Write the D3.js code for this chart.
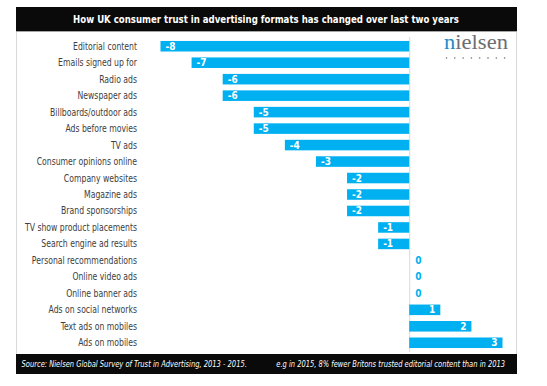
<!DOCTYPE html>
<html>
<head>
<meta charset="utf-8">
<script src="https://cdn.jsdelivr.net/npm/d3@7/dist/d3.min.js"></script>
<style>
  body { margin: 0; background: #fff; }
  svg { display: block; }
</style>
</head>
<body>
<div id="chart"></div>
<script>
// chart data
const formats = [
  "Editorial content", "Emails signed up for", "Radio ads", "Newspaper ads",
  "Billboards/outdoor ads", "Ads before movies", "TV ads", "Consumer opinions online",
  "Company websites", "Magazine ads", "Brand sponsorships", "TV show product placements",
  "Search engine ad results", "Personal recommendations", "Online video ads",
  "Online banner ads", "Ads on social networks", "Text ads on mobiles", "Ads on mobiles"
];
const changes = [-8, -7, -6, -6, -5, -5, -4, -3, -2, -2, -2, -1, -1, 0, 0, 0, 1, 2, 3];
const xDomain = [-8, 3];

const titleText = "How UK consumer trust in advertising formats has changed over last two years";
const sourceText = "Source: Nielsen Global Survey of Trust in Advertising, 2013 - 2015.";
const noteText = "e.g in 2015, 8% fewer Britons trusted editorial content than in 2013";

const W = 547, H = 386;
const blue = "#00b0f0";
const font = "'DejaVu Sans Condensed', 'Liberation Sans', sans-serif";

const svg = d3.select("#chart").append("svg")
  .attr("width", W)
  .attr("height", H);

// narrow text: draw at origin inside a group that is scaled horizontally
// so that the text takes `width` px, anchored at (x, y)
function narrowText(parent, str, x, y, width, anchor, styles) {
  const g = parent.append("g");
  const t = g.append("text").attr("text-anchor", anchor).text(str);
  Object.entries(styles).forEach(([k, v]) => t.style(k, v));
  const k = width / t.node().getComputedTextLength();
  g.attr("transform", `translate(${x},${y}) scale(${k},1)`);
  return t;
}

// outer frame
svg.append("rect")
  .attr("x", 16.5).attr("y", 7.5)
  .attr("width", 500).attr("height", 366)
  .attr("fill", "#fff")
  .attr("stroke", "#d9d9d9");

// title bar
svg.append("rect")
  .attr("x", 16).attr("y", 7)
  .attr("width", 501).attr("height", 24)
  .attr("fill", "#0a0a0a");
svg.append("line")
  .attr("x1", 16).attr("x2", 517)
  .attr("y1", 31.5).attr("y2", 31.5)
  .attr("stroke", "#a6a6a6");
narrowText(svg, titleText, 266, 23, 386, "middle", {
  "font-family": font, "font-weight": "bold", "font-size": "11px", "fill": "#fff"
});

// footer bar
svg.append("rect")
  .attr("x", 16).attr("y", 354)
  .attr("width", 501).attr("height", 20)
  .attr("fill", "#0a0a0a");
const footStyle = { "font-family": font, "font-style": "italic", "font-size": "9px", "fill": "#fff" };
narrowText(svg, sourceText, 21.5, 367, 226, "start", footStyle);
narrowText(svg, noteText, 505, 367, 229, "end", footStyle);

// scales
const x = d3.scaleLinear().domain(xDomain).range([160.5, 502.5]);
const y = d3.scaleBand().domain(formats).range([38, 351]).paddingInner(0.36).paddingOuter(0.18);

// zero line
svg.append("line")
  .attr("x1", x(0) + 0.5).attr("x2", x(0) + 0.5)
  .attr("y1", 37).attr("y2", 352)
  .attr("stroke", "#d9d9d9");

// category labels
const labelG = svg.append("g");
formats.forEach(f => {
  const g = labelG.append("g");
  g.append("text")
    .attr("text-anchor", "end")
    .attr("fill", "#404040")
    .style("font-family", font)
    .style("font-size", "10px")
    .text(f);
  g.attr("transform", `translate(137,${y(f) + y.bandwidth() / 2 + 3.5}) scale(0.86,1)`);
});

const rows = formats.map((f, i) => ({ name: f, value: changes[i] }));

// bars
svg.append("g")
  .selectAll("rect")
  .data(rows.filter(d => d.value !== 0))
  .join("rect")
  .attr("x", d => x(Math.min(0, d.value)))
  .attr("y", d => y(d.name))
  .attr("width", d => Math.abs(x(d.value) - x(0)))
  .attr("height", y.bandwidth())
  .attr("fill", blue);

// value labels
svg.append("g")
  .selectAll("text")
  .data(rows)
  .join("text")
  .attr("x", d => d.value < 0 ? x(d.value) + 5 : d.value > 0 ? x(d.value) - 5 : x(0) + 6)
  .attr("y", d => y(d.name) + y.bandwidth() / 2 + 3.5)
  .attr("text-anchor", d => d.value > 0 ? "end" : "start")
  .attr("fill", d => d.value === 0 ? blue : "#fff")
  .style("font-family", font)
  .style("font-weight", "bold")
  .style("font-size", "10px")
  .text(d => d.value);

// nielsen logo
const logoG = svg.append("g");
const logo = logoG.append("text")
  .style("font-family", "'Liberation Serif', 'DejaVu Serif', serif")
  .style("font-size", "20px")
  .attr("fill", "#6d6e71");
logo.append("tspan").attr("fill", "#1f8ac9").text("n");
logo.append("tspan").text("ielsen");
logoG.attr("transform", `translate(444,49) scale(${64 / logo.node().getComputedTextLength()},1)`);
svg.append("g")
  .selectAll("circle")
  .data(d3.range(8))
  .join("circle")
  .attr("cx", d => 446.5 + d * 8.3)
  .attr("cy", 58)
  .attr("r", 0.8)
  .attr("fill", "#6d6e71");
</script>
</body>
</html>
